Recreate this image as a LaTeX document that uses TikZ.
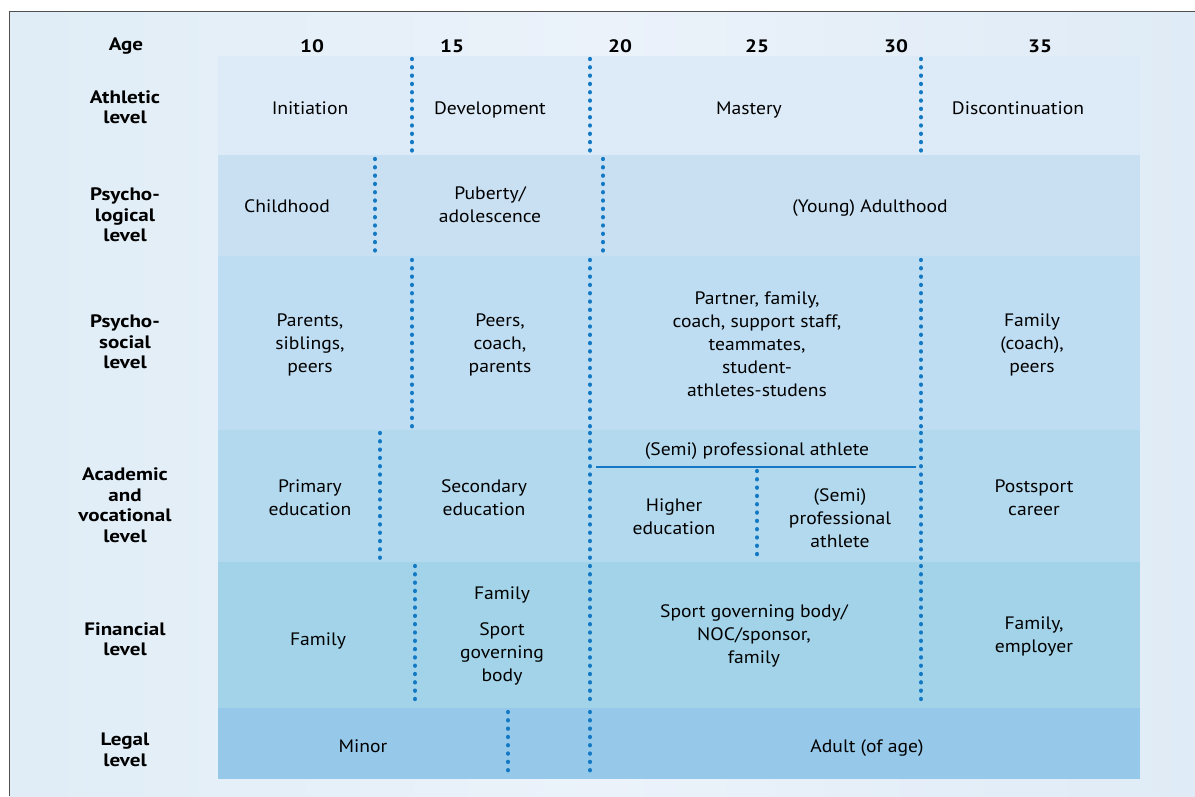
\documentclass[tikz,border=0pt]{standalone}
\usepackage{fontspec}
\setmainfont{PT Sans}[FakeStretch=1.09, BoldFeatures={FakeStretch=1.17}]
\definecolor{bgL}{HTML}{E0EDF6}
\definecolor{bgM}{HTML}{EBF2FA}
\definecolor{bgR}{HTML}{DFEBF6}
\definecolor{rowA}{HTML}{DCEBF7}
\definecolor{rowB}{HTML}{C9E0F3}
\definecolor{rowC}{HTML}{BEDDF2}
\definecolor{rowD}{HTML}{B3D9EE}
\definecolor{rowE}{HTML}{A2D3E9}
\definecolor{rowF}{HTML}{96C8EA}
\definecolor{dotblue}{HTML}{1479C4}
\definecolor{frame}{HTML}{505050}
\tikzset{
  x=1pt, y=-1pt,
  cell/.style={align=center, inner sep=0pt, font=\fontsize{18}{23}\selectfont, text=black},
  lab/.style={align=center, inner sep=0pt, font=\bfseries\fontsize{18}{20.5}\selectfont},
  agelab/.style={inner sep=0pt, font=\bfseries\fontsize{18}{20.5}\selectfont},
  dotline/.style={draw=dotblue, line width=4.4pt, line cap=round, dash pattern=on 0.01pt off 8.3pt}
}
\begin{document}
\begin{tikzpicture}
\useasboundingbox (0,0) rectangle (1195,796);
\fill[white] (0,0) rectangle (1195,796);
\shade[left color=bgL, right color=bgR, middle color=bgM] (9,11) rectangle (1195,796);
\draw[frame, line width=1pt] (9,796) -- (9,11) -- (1195,11);

% rows
\fill[rowA] (218,56) rectangle (1140,155);
\fill[rowB] (218,155) rectangle (1140,256);
\fill[rowC] (218,256) rectangle (1140,430);
\fill[rowD] (218,430) rectangle (1140,562);
\fill[rowE] (218,562) rectangle (1140,708);
\fill[rowF] (218,708) rectangle (1140,779);

% age header
\node[agelab] (age) at (126,46) {Age};
\node[agelab] (a10) at (312,46) {10};
\node[agelab] (a15) at (452,46) {15};
\node[agelab] (a20) at (620,46) {20};
\node[agelab] (a25) at (757,46) {25};
\node[agelab] (a30) at (896,46) {30};
\node[agelab] (a35) at (1040,46) {35};

% left labels
\node[lab] (lA) at (125,107) {Athletic\\level};
\node[lab] (lB) at (125,215) {Psycho-\\logical\\level};
\node[lab] (lC) at (125,342) {Psycho-\\social\\level};
\node[lab] (lD) at (125,505) {Academic\\and\\vocational\\level};
\node[lab] (lE) at (125,639) {Financial\\level};
\node[lab] (lF) at (125,750) {Legal\\level};

% dotted separators
\draw[dotline] (412,59) -- (412,152);
\draw[dotline] (590,59) -- (590,152);
\draw[dotline] (921,59) -- (921,152);
\draw[dotline] (375,159) -- (375,252);
\draw[dotline] (603,159) -- (603,252);
\draw[dotline] (412,260) -- (412,427);
\draw[dotline] (590,260) -- (590,427);
\draw[dotline] (921,260) -- (921,427);
\draw[dotline] (380,433) -- (380,559);
\draw[dotline] (590,433) -- (590,559);
\draw[dotline] (921,433) -- (921,559);
\draw[dotline] (757,471) -- (757,559);
\draw[dotline] (415,566) -- (415,705);
\draw[dotline] (590,566) -- (590,705);
\draw[dotline] (921,566) -- (921,705);
\draw[dotline] (508,712) -- (508,776);
\draw[dotline] (590,712) -- (590,776);
\draw[dotblue, line width=1.5pt] (596,467) -- (916,467);

% athletic
\node[cell] (ini) at (310,108) {Initiation};
\node[cell] (dev) at (490,110) {Development};
\node[cell] (mas) at (749,110) {Mastery};
\node[cell] (dis) at (1018,108) {Discontinuation};
% psychological
\node[cell] (chi) at (287,206) {Childhood};
\node[cell] (pub) at (490,205) {Puberty/\\adolescence};
\node[cell] (yad) at (870,208) {(Young) Adulthood};
% psychosocial
\node[cell] (par) at (310,345) {Parents,\\siblings,\\peers};
\node[cell] (pee) at (500,345) {Peers,\\coach,\\parents};
\node[cell] (ptn) at (757,344) {Partner, family,\\coach, support staff,\\teammates,\\student-\\athletes-studens};
\node[cell] (fam) at (1032,345) {Family\\(coach),\\peers};
% academic
\node[cell] (spa) at (757,451) {(Semi) professional athlete};
\node[cell] (pri) at (310,498) {Primary\\education};
\node[cell] (sec) at (484,498) {Secondary\\education};
\node[cell] (hig) at (674,517) {Higher\\education};
\node[cell] (spb) at (840,518) {(Semi)\\professional\\athlete};
\node[cell] (pos) at (1034,498) {Postsport\\career};
% financial
\node[cell] (fa1) at (318,641) {Family};
\node[cell] (fa2) at (502,595) {Family};
\node[cell] (sgb) at (502,654) {Sport\\governing\\body};
\node[cell] (noc) at (754,636) {Sport governing body/\\NOC/sponsor,\\family};
\node[cell] (emp) at (1034,636) {Family,\\employer};
% legal
\node[cell] (min) at (363,746) {Minor};
\node[cell] (adu) at (867,748) {Adult (of age)};
\end{tikzpicture}
\end{document}
